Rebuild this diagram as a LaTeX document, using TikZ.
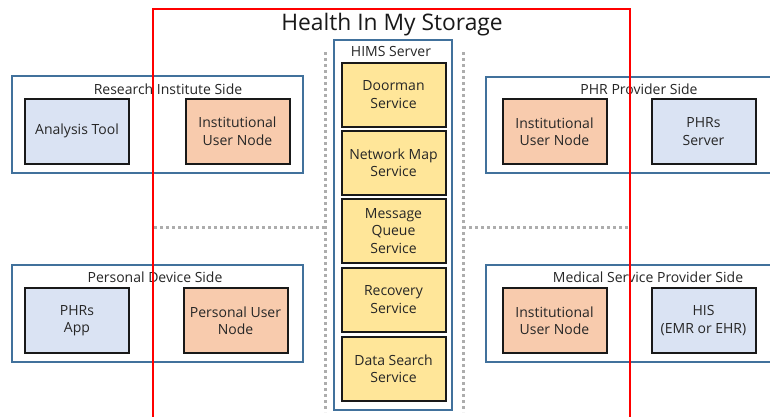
\documentclass[tikz,border=0pt]{standalone}
\usepackage{fontspec}
\setmainfont{Open Sans}
\begin{document}
\begin{tikzpicture}[x=1pt,y=-1pt,
  lbl/.style={font=\fontsize{14}{17.5}\selectfont, align=center, text=black!85},
  unit/.style={lbl, draw=black!90, line width=2pt, minimum width=104pt, minimum height=65pt, inner sep=0pt},
  bluebox/.style={unit, fill=blueFill},
  orangebox/.style={unit, fill=orangeFill},
  svc/.style={lbl, draw=black!90, line width=2pt, fill=yellowFill, minimum width=104pt, minimum height=64pt, inner sep=0pt},
  group/.style={draw=groupBlue, line width=1.5pt, inner sep=0pt},
  sep/.style={draw=sepGray, line width=3pt, dash pattern=on 3pt off 3pt}
]
\definecolor{blueFill}{HTML}{DAE3F3}
\definecolor{orangeFill}{HTML}{F8CBAD}
\definecolor{yellowFill}{HTML}{FFE699}
\definecolor{groupBlue}{HTML}{41719C}
\definecolor{sepGray}{HTML}{ADADAD}
\useasboundingbox (0,0) rectangle (770,416);
\fill[white] (0,0) rectangle (770,416);

% separators
\coordinate (vl1) at (325,52);  \coordinate (vl2) at (325,412);
\coordinate (vr1) at (463,52);  \coordinate (vr2) at (463,412);
\coordinate (hl1) at (154,227); \coordinate (hl2) at (325,227);
\coordinate (hr1) at (463,227); \coordinate (hr2) at (628,227);
\draw[sep] (vl1) -- (vl2);
\draw[sep] (vr1) -- (vr2);
\draw[sep] (hl1) -- (hl2);
\draw[sep] (hr1) -- (hr2);

% HIMS server column
\node[group, minimum width=118pt, minimum height=370pt] (hims) at (393,225) {};
\node[lbl, anchor=center] (himsT) at (391,51) {HIMS Server};
\node[svc] (door) at (393.5,94.5) {Doorman\\Service};
\node[svc] (nmap) at (393.5,162.5) {Network Map\\Service};
\node[svc] (mq) at (393.5,231) {Message\\Queue\\Service};
\node[svc] (rec) at (393.5,299.5) {Recovery\\Service};
\node[svc] (ds) at (393.5,368.5) {Data Search\\Service};

% research institute side
\node[group, minimum width=291pt, minimum height=97pt] (ris) at (157.5,124.5) {};
\node[lbl] (risT) at (168,89) {Research Institute Side};
\node[bluebox] (anal) at (77,131) {Analysis Tool};
\node[orangebox] (iun1) at (237.5,131) {Institutional\\User Node};

% PHR provider side
\node[group, minimum width=300pt, minimum height=96pt] (pps) at (636,125) {};
\node[lbl] (ppsT) at (639,89) {PHR Provider Side};
\node[orangebox] (iun2) at (554.5,131.5) {Institutional\\User Node};
\node[bluebox] (phrs) at (703.5,131.5) {PHRs\\Server};

% personal device side
\node[group, minimum width=291pt, minimum height=97pt] (pds) at (157.5,313.5) {};
\node[lbl] (pdsT) at (155,277) {Personal Device Side};
\node[bluebox] (app) at (77,320.5) {PHRs\\App};
\node[orangebox] (pun) at (235.5,320.5) {Personal User\\Node};

% medical service provider side
\node[group, minimum width=300pt, minimum height=97pt] (msp) at (636,313.5) {};
\node[lbl] (mspT) at (648,277) {Medical Service Provider Side};
\node[orangebox] (iun3) at (554.5,320.5) {Institutional\\User Node};
\node[bluebox] (his) at (703.5,320.5) {HIS\\(EMR or EHR)};

% system boundary
\coordinate (rb1) at (152.5,8.5);
\coordinate (rb2) at (630,430);
\draw[red, line width=2pt] (rb1) rectangle (rb2);
\node[font=\fontsize{22.8}{27}\selectfont, text=black!90] (title) at (392,25) {Health In My Storage};
\end{tikzpicture}
\end{document}
